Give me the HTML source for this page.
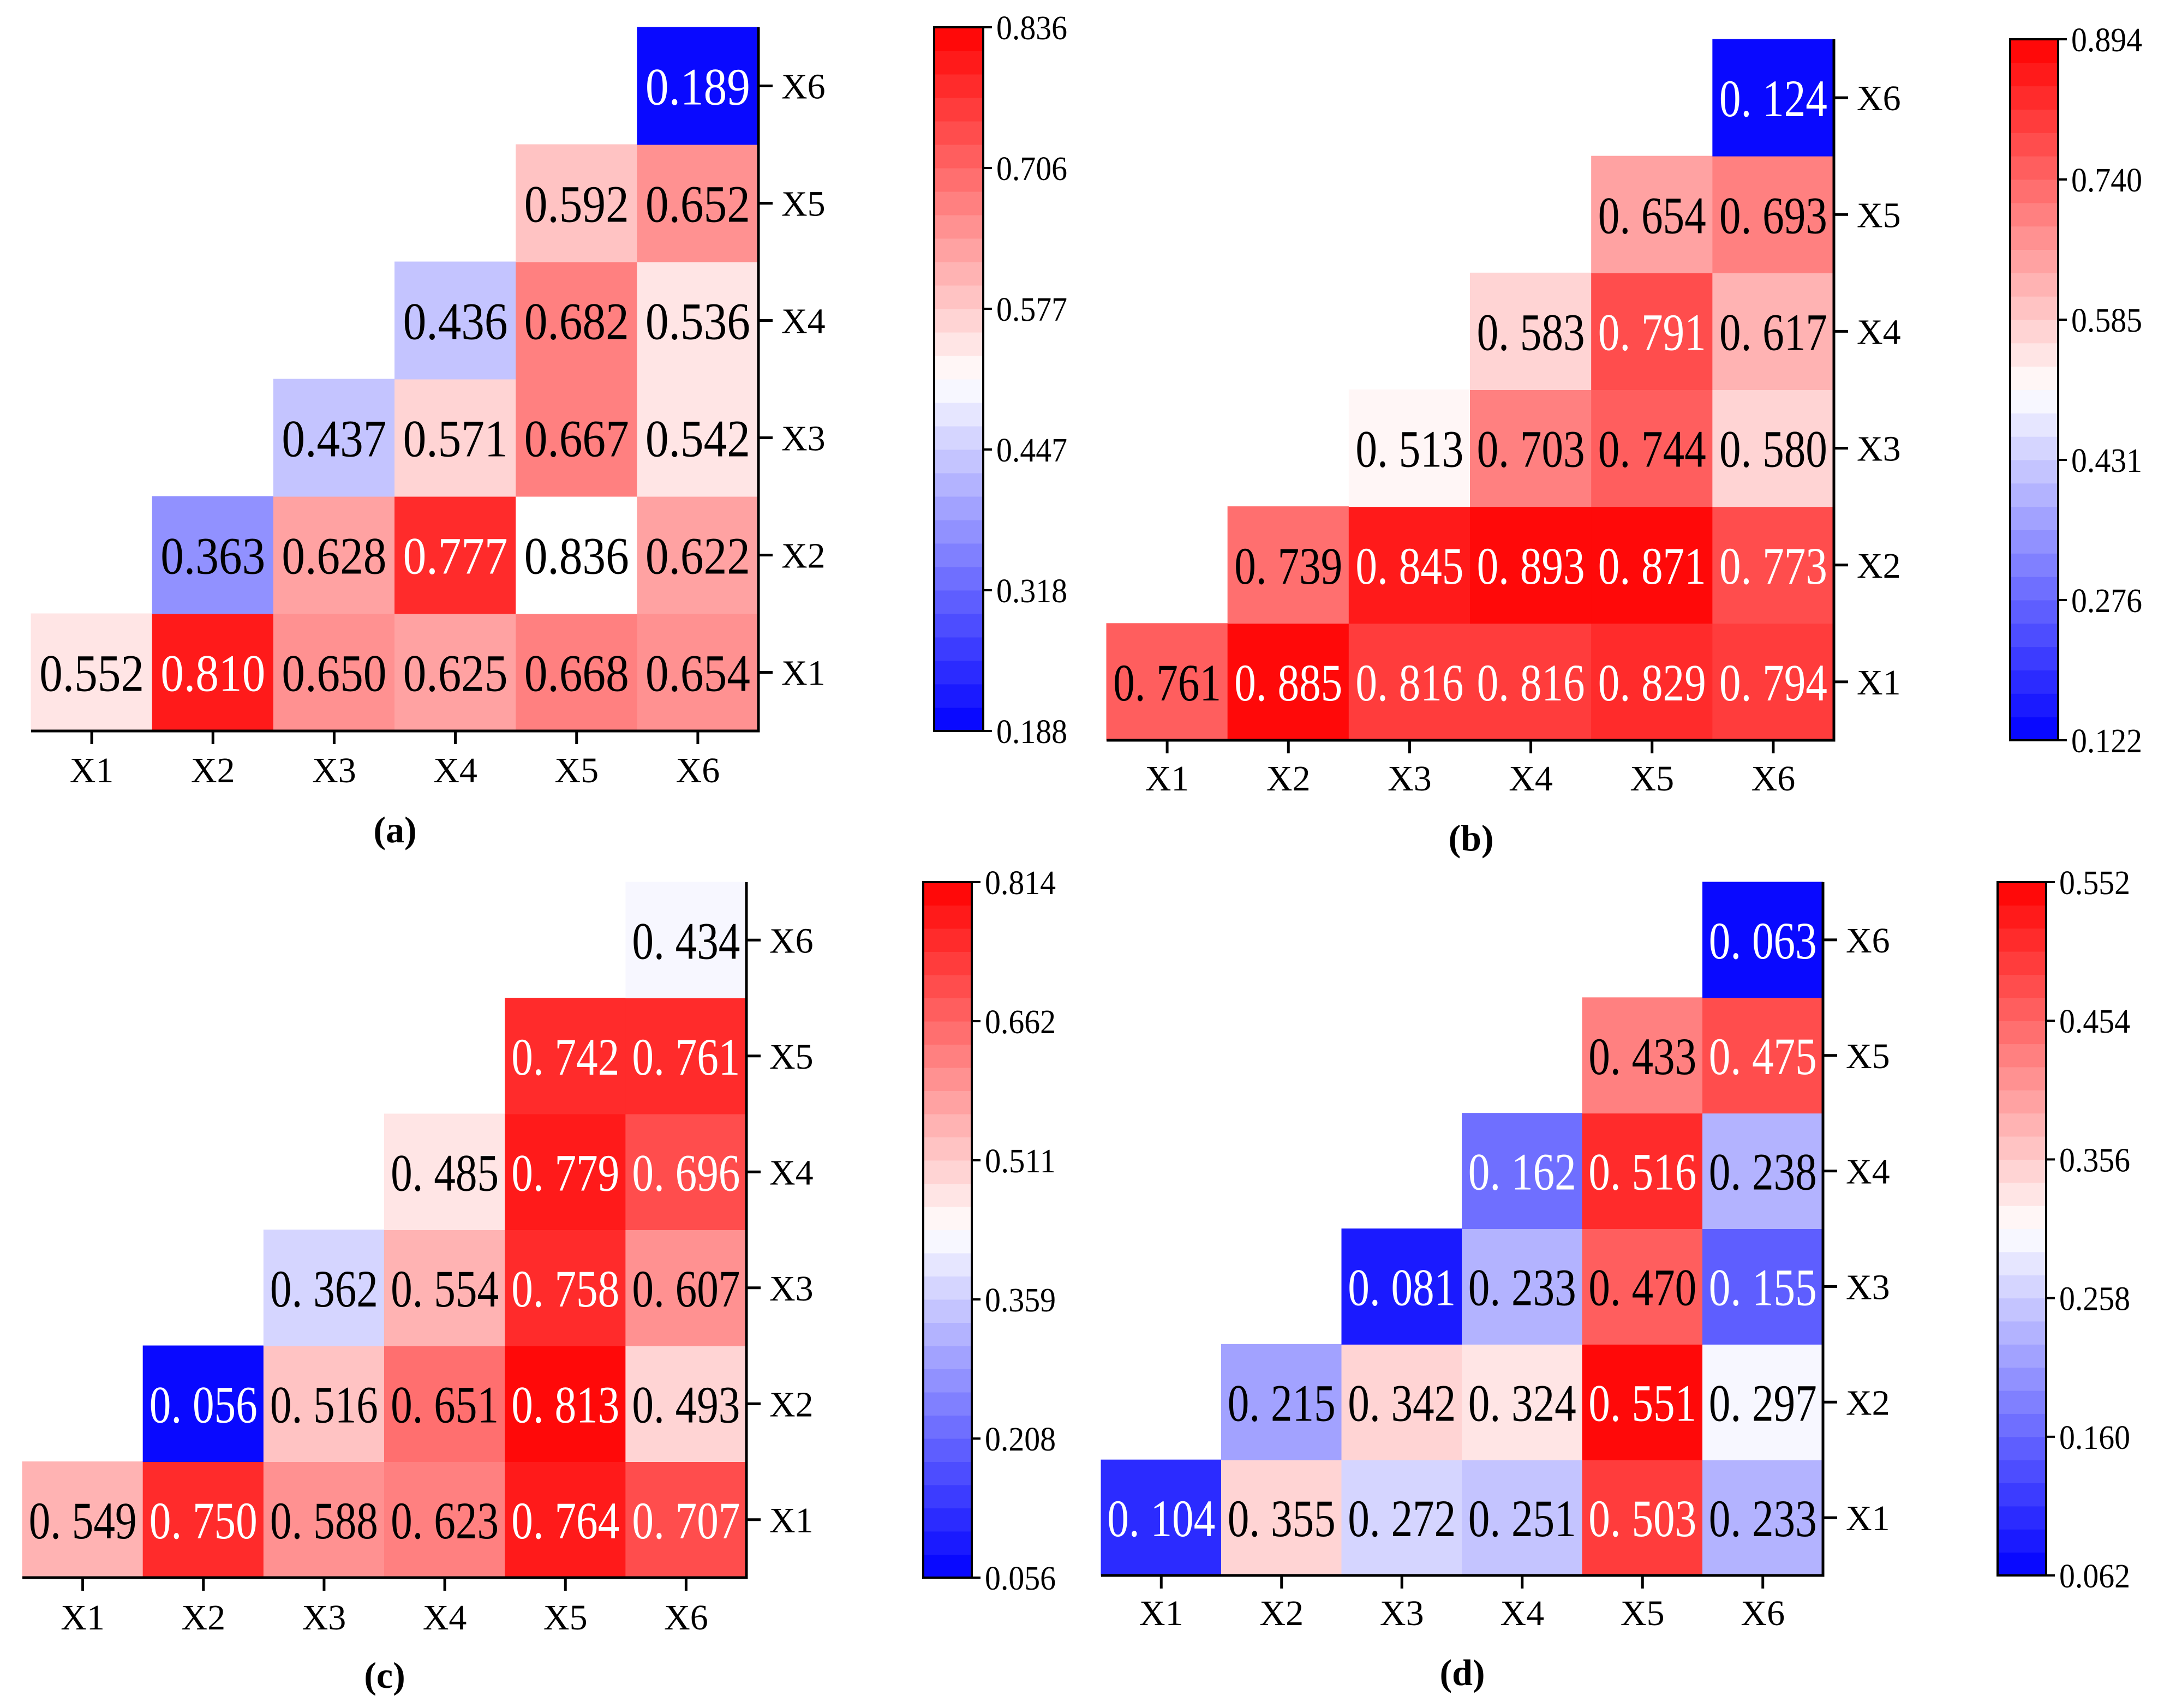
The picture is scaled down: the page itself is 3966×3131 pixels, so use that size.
<!DOCTYPE html>
<html><head><meta charset="utf-8"><style>
html,body{margin:0;padding:0;background:#fff;}
svg{display:block;}
svg text{font-family:"Liberation Serif","Noto Serif CJK SC",serif;}
</style></head><body>
<svg id="fig" width="3966" height="3131" viewBox="0 0 3966 3131" xmlns="http://www.w3.org/2000/svg" font-family="Liberation Serif, serif"></svg>
<script>
const labels = ["X1","X2","X3","X4","X5","X6"];
const valuesA = [[0.552,0.810,0.650,0.625,0.668,0.654],[0.363,0.628,0.777,0.836,0.622],[0.437,0.571,0.667,0.542],[0.436,0.682,0.536],[0.592,0.652],[0.189]];
const valuesB = [[0.761,0.885,0.816,0.816,0.829,0.794],[0.739,0.845,0.893,0.871,0.773],[0.513,0.703,0.744,0.580],[0.583,0.791,0.617],[0.654,0.693],[0.124]];
const valuesC = [[0.549,0.750,0.588,0.623,0.764,0.707],[0.056,0.516,0.651,0.813,0.493],[0.362,0.554,0.758,0.607],[0.485,0.779,0.696],[0.742,0.761],[0.434]];
const valuesD = [[0.104,0.355,0.272,0.251,0.503,0.233],[0.215,0.342,0.324,0.551,0.297],[0.081,0.233,0.470,0.155],[0.162,0.516,0.238],[0.433,0.475],[0.063]];
const ticksA = ["0.188","0.318","0.447","0.577","0.706","0.836"];
const ticksB = ["0.122","0.276","0.431","0.585","0.740","0.894"];
const ticksC = ["0.056","0.208","0.359","0.511","0.662","0.814"];
const ticksD = ["0.062","0.160","0.258","0.356","0.454","0.552"];
const rangeA = [0.188,0.836], rangeB = [0.122,0.894], rangeC = [0.056,0.814], rangeD = [0.062,0.552];

const panels = [
 {id:"a", vals:valuesA, ticks:ticksA, range:rangeA, spaced:false, L:57,R:1390,T:50,B:1340, cbL:1712,cbR:1802, xlabY:1410, capX:724, capY:1520, white:[[1,3]]},
 {id:"b", vals:valuesB, ticks:ticksB, range:rangeB, spaced:true, L:2028,R:3361,T:72,B:1357, cbL:3684,cbR:3772, xlabY:1425, capX:2696, capY:1535, white:[]},
 {id:"c", vals:valuesC, ticks:ticksC, range:rangeC, spaced:true, L:41,R:1368,T:1617,B:2892, cbL:1692,cbR:1781, xlabY:2963, capX:705, capY:3070, white:[]},
 {id:"d", vals:valuesD, ticks:ticksD, range:rangeD, spaced:true, L:2018,R:3341,T:1617,B:2888, cbL:3661,cbR:3750, xlabY:2955, capX:2680, capY:3065, white:[]}
];
const NS="http://www.w3.org/2000/svg";
const svg=document.getElementById("fig");
const FF="Liberation Serif, Noto Serif CJK SC, serif";
function mk(tag,attrs,parent,txt){const e=document.createElementNS(NS,tag);for(const k in attrs)e.setAttribute(k,attrs[k]);if(tag==="text")e.setAttribute("font-family",FF);if(txt!==undefined)e.textContent=txt;(parent||svg).appendChild(e);return e;}
const NB=30;
function colorT(t){
  let q=Math.min(NB-1,Math.max(0,Math.floor(t*NB)));
  let tt=(q+0.5)/NB;
  let r,g,b;
  if(tt<0.5){const s=tt*2;r=Math.round(255*s);g=r;b=255;}
  else{const s=(1-tt)*2;r=255;g=Math.round(255*s);b=g;}
  return `rgb(${r},${g},${b})`;
}
panels.forEach(p=>{
  const g=mk("g",{});
  
  
  const cw=(p.R-p.L)/6, ch=(p.B-p.T)/6;
  const xS=c=>p.L+c*cw, yS=r=>p.B-(r+1)*ch;
  const [mn,mx]=p.range;
  p.vals.forEach((row,r)=>{
    row.forEach((v,k)=>{
      const c=r+k;
      const t=(v-mn)/(mx-mn);
      const isW=p.white.some(w=>w[0]===r&&w[1]===k);
      const fill=isW?"#fff":colorT(t);
      const rect=mk("rect",{x:xS(c)-0.5,y:yS(r)-0.5,width:cw+1,height:ch+1,fill:fill},g);
      
      
      const txtCol=(!isW&&(t>0.84||t<0.25))?"#fff":"#000";
      const s=p.spaced? v.toFixed(3).replace(".",". ") : v.toFixed(3);
      const tx=mk("text",{x:xS(c)+cw/2,y:yS(r)+ch/2+34,"font-size":96,fill:txtCol,"text-anchor":"middle",textLength:p.spaced?198:192,lengthAdjust:"spacingAndGlyphs"},g,s);
      
      
    });
  });
  const ax=mk("path",{d:`M${p.L},${p.B}H${p.R}V${p.T}`,stroke:"#000","stroke-width":5,fill:"none"},g);
  
  
  labels.forEach((lb,i)=>{
    const cx=xS(i)+cw/2;
    mk("line",{x1:cx,y1:p.B,x2:cx,y2:p.B+24,stroke:"#000","stroke-width":5},g);
    const xt=mk("text",{x:cx,y:p.xlabY+24,"font-size":66,"text-anchor":"middle"},g,lb);
    
    
    const cy=yS(i)+ch/2;
    mk("line",{x1:p.R,y1:cy,x2:p.R+26,y2:cy,stroke:"#000","stroke-width":5},g);
    const yt=mk("text",{x:p.R+42,y:cy+23,"font-size":66},g,lb);
    
    
  });
  const cb=mk("g",{},g);
  
  
  const bh=(p.B-p.T)/NB;
  for(let i=0;i<NB;i++){
    mk("rect",{x:p.cbL,y:p.B-(i+1)*bh-0.5,width:p.cbR-p.cbL,height:bh+1,fill:colorT((i+0.5)/NB)},cb);
  }
  mk("rect",{x:p.cbL,y:p.T,width:p.cbR-p.cbL,height:p.B-p.T,fill:"none",stroke:"#000","stroke-width":4},cb);
  p.ticks.forEach((tl,i)=>{
    const y=p.B-i*(p.B-p.T)/(p.ticks.length-1);
    mk("line",{x1:p.cbR,y1:y,x2:p.cbR+16,y2:y,stroke:"#000","stroke-width":4},cb);
    const t=mk("text",{x:p.cbR+24,y:y+22,"font-size":62,textLength:130,lengthAdjust:"spacingAndGlyphs"},cb,tl);
    
    
  });
  const cap=mk("text",{x:p.capX,y:p.capY+24,"font-size":68,"font-weight":"bold","text-anchor":"middle"},g,"("+p.id+")");
  
  
});
</script>
</body></html>
